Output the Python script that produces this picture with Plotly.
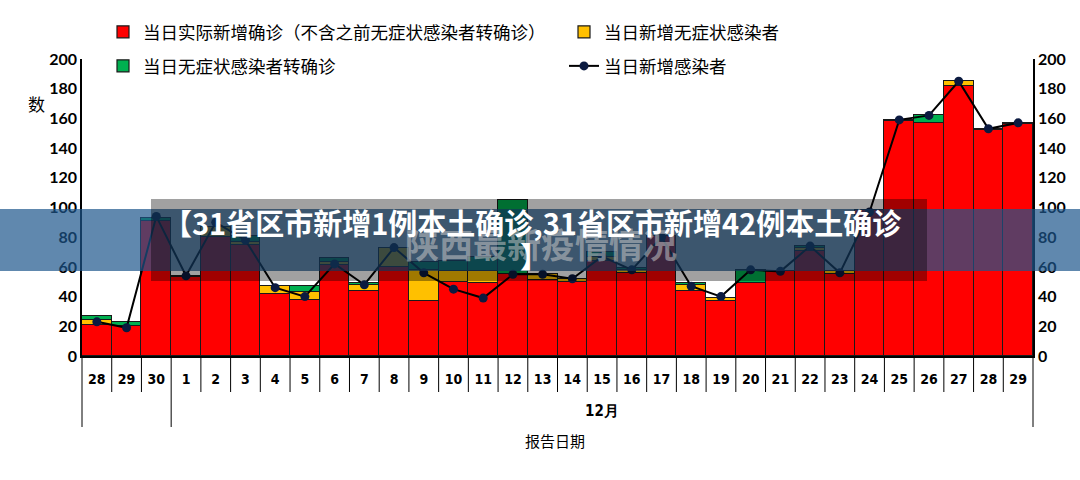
import plotly.graph_objects as go

# ---------------- data ----------------
nov_days = ["28", "29", "30"]
dec_days = [str(d) for d in range(1, 30)]
days = nov_days + dec_days
keys = ["11月" + d + "日" for d in nov_days] + ["12月" + d + "日" for d in dec_days]

confirmed = [21, 20, 91, 53, 80, 75, 42, 38, 61, 44, 60, 37, 50, 49, 55, 51,
             50, 64, 56, 81, 44, 37, 49, 57, 71, 55, 98, 158, 157, 182, 152, 156]
asymptomatic = [3, 0, 0, 1, 7, 2, 5, 5, 2, 4, 13, 21, 7, 8, 0, 4,
                2, 3, 2, 0, 4, 2, 0, 0, 2, 2, 0, 1, 0, 3, 1, 1]
converted = [3, 3, 2, 0, 0, 4, 0, 4, 3, 1, 0, 5, 7, 10, 50, 0,
             0, 3, 1, 0, 1, 0, 9, 0, 1, 0, 0, 0, 5, 0, 0, 0]
infections = [23, 19, 94, 54, 90, 78, 46, 40, 62, 48, 73, 56, 45, 39, 55, 55,
              52, 67, 58, 80, 47, 40, 58, 57, 74, 56, 97, 159, 162, 185, 153, 157]

y_ticks = list(range(0, 201, 20))

# ---------------- geometry helpers ----------------
W, H = 1080, 480
L, R, T, B = 82, 47, 59, 124
PW, PH = W - L - R, H - T - B


def px(x):
    return (x - L) / PW


def py(y):
    return (H - B - y) / PH


fig = go.Figure()
bar_line = dict(color="#1a1a1a", width=1.2)
fig.add_bar(x=keys, y=confirmed, name="当日实际新增确诊（不含之前无症状感染者转确诊）",
            marker=dict(color="#FF0000", line=bar_line), legend="legend")
fig.add_bar(x=keys, y=asymptomatic, name="当日新增无症状感染者",
            marker=dict(color="#FFC000", line=bar_line), legend="legend")
fig.add_bar(x=keys, y=converted, name="当日无症状感染者转确诊",
            marker=dict(color="#00B050", line=bar_line), legend="legend2")
fig.add_scatter(x=keys, y=infections, name="当日新增感染者", mode="lines+markers",
                line=dict(color="#000000", width=2),
                marker=dict(color="#0b1a40", size=9), yaxis="y2", legend="legend2")

tickfont = dict(family="Lato, Open Sans, sans-serif", size=16, color="#000", weight="bold")
yax = dict(range=[0, 200], tickvals=y_ticks, showline=True, linecolor="#000", linewidth=1.5,
           ticks="", showgrid=False, zeroline=False, tickfont=tickfont, fixedrange=True)

narrow = "DejaVu Sans Condensed, Liberation Sans Narrow, Roboto, sans-serif"
leg_font = dict(family="Noto Sans CJK SC", size=17.5, color="#000")
n = len(keys)
fig.update_layout(
    width=W, height=H,
    margin=dict(l=L, r=R, t=T, b=B),
    paper_bgcolor="white", plot_bgcolor="white",
    barmode="stack", bargap=0,
    xaxis=dict(type="category", categoryorder="array", categoryarray=keys,
               tickmode="array", tickvals=keys, ticktext=days,
               range=[-0.5, n - 0.5], ticks="", showline=True, linecolor="#000", linewidth=1.5,
               showgrid=False, ticklabelstandoff=9,
               tickfont=dict(family=narrow, size=14, color="#000", weight="bold")),
    yaxis=yax,
    yaxis2=dict(yax, overlaying="y", side="right"),
    legend=dict(orientation="h", x=px(103), xanchor="left", y=py(14), yanchor="top",
                entrywidth=416, entrywidthmode="pixels", font=leg_font,
                bgcolor="rgba(0,0,0,0)", traceorder="normal"),
    legend2=dict(orientation="h", x=px(103), xanchor="left", y=py(48), yanchor="top",
                 entrywidth=416, entrywidthmode="pixels", font=leg_font,
                 bgcolor="rgba(0,0,0,0)", traceorder="normal"),
    showlegend=True,
)

# category separators and group dividers below the x axis (paper fractions of the category band)
n_nov = len(nov_days)
group_idx = {0, n_nov, n}
for i in range(n + 1):
    y_end = py(427) if i in group_idx else py(392)
    fig.add_shape(type="line", xref="paper", yref="paper", x0=i / n, x1=i / n, y0=0, y1=y_end,
                  line=dict(color="#000", width=1))

ann = dict(showarrow=False, xanchor="center", yanchor="middle")
fig.add_annotation(x=(n_nov + n) / 2 / n, xref="paper", y=py(411), yref="paper", text="12月",
                   font=dict(family=narrow, size=15, color="#000", weight="bold"), **ann)
fig.add_annotation(x=px(555), xref="paper", y=py(440), yref="paper", text="报告日期",
                   font=dict(family="Noto Sans CJK SC", size=15, color="#000"), **ann)
fig.add_annotation(x=px(36), xref="paper", y=py(103), yref="paper", text="数",
                   font=dict(family="Noto Sans CJK SC", size=17, color="#000"), **ann)

# banner overlay
fig.add_shape(type="rect", xref="paper", yref="paper", x0=px(0), x1=px(W), y0=py(271), y1=py(209),
              fillcolor="rgba(28,86,140,0.7)", line=dict(width=0), layer="above")
fig.add_shape(type="rect", xref="paper", yref="paper", x0=px(151), x1=px(927), y0=py(281), y1=py(199),
              fillcolor="rgba(0,0,0,0.37)", line=dict(width=0), layer="above")
fig.add_annotation(x=px(541), xref="paper", y=py(244), yref="paper", text="陕西最新疫情情况",
                   font=dict(family="Noto Sans CJK SC", size=34, color="rgba(200,200,200,0.55)",
                             weight="bold"), **ann)
fig.add_annotation(x=px(532), xref="paper", y=py(222), yref="paper",
                   text="【31省区市新增1例本土确诊,31省区市新增42例本土确诊",
                   font=dict(family="Noto Sans CJK SC", size=29, color="#ffffff", weight="bold"), **ann)
fig.add_annotation(x=px(534), xref="paper", y=py(255), yref="paper", text="】",
                   font=dict(family="Noto Sans CJK SC", size=29, color="#ffffff", weight="bold"), **ann)

fig.write_html("out.html")
